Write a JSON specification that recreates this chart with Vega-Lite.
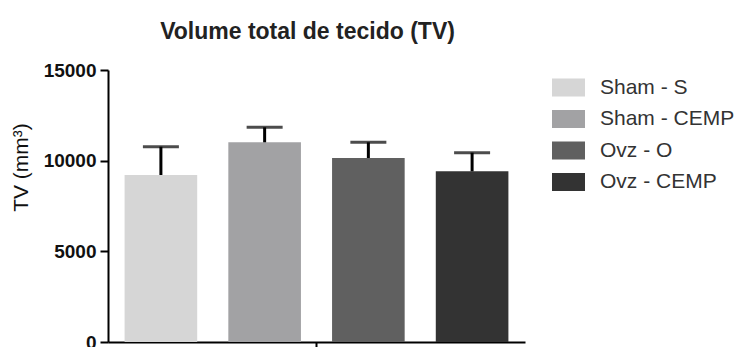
{
  "$schema": "https://vega.github.io/schema/vega-lite/v6.json",
  "width": 417,
  "height": 272,
  "autosize": {"type": "none"},
  "padding": {"left": 108, "top": 70, "right": 222, "bottom": 5},
  "background": "white",
  "config": {
    "view": {"stroke": null},
    "font": "Liberation Sans"
  },
  "title": {
    "text": "Volume total de tecido (TV)",
    "fontSize": 23,
    "fontWeight": "bold",
    "font": "Liberation Sans",
    "color": "#222222",
    "anchor": "middle",
    "frame": "group",
    "dx": -9,
    "dy": 7,
    "baseline": "alphabetic",
    "offset": 6
  },
  "data": {
    "values": [
      {"tecido": "TV", "grupo": "Sham - S", "media": 9210, "sup": 10770},
      {"tecido": "TV", "grupo": "Sham - CEMP", "media": 11013, "sup": 11840},
      {"tecido": "TV", "grupo": "Ovz - O", "media": 10147, "sup": 11013},
      {"tecido": "TV", "grupo": "Ovz - CEMP", "media": 9412, "sup": 10441}
    ]
  },
  "encoding": {
    "x": {
      "field": "tecido",
      "type": "nominal",
      "scale": {"paddingInner": 0, "paddingOuter": 0},
      "axis": {
        "title": null,
        "labels": false,
        "ticks": true,
        "tickSize": 6,
        "tickWidth": 2,
        "tickColor": "black",
        "domainColor": "black",
        "domainWidth": 2
      }
    },
    "xOffset": {
      "field": "grupo",
      "type": "nominal",
      "sort": ["Sham - S", "Sham - CEMP", "Ovz - O", "Ovz - CEMP"],
      "scale": {"paddingInner": 0.3, "paddingOuter": 0.16}
    }
  },
  "layer": [
    {
      "mark": {"type": "bar"},
      "encoding": {
        "y": {
          "field": "media",
          "type": "quantitative",
          "scale": {"domain": [0, 15000], "nice": false},
          "axis": {
            "title": "TV (mm³)",
            "titleFontSize": 21,
            "titleFontWeight": "normal",
            "titleFont": "Liberation Sans",
            "titleColor": "#111111",
            "titleAngle": -90,
            "titleX": -87,
            "titleY": 97,
            "titleAlign": "center",
            "titleBaseline": "middle",
            "values": [0, 5000, 10000, 15000],
            "format": "d",
            "grid": false,
            "labelFontSize": 19,
            "labelFontWeight": "bold",
            "labelFont": "Liberation Sans",
            "labelColor": "#111111",
            "labelPadding": 4,
            "tickSize": 8,
            "tickWidth": 2,
            "tickColor": "black",
            "domainColor": "black",
            "domainWidth": 2
          }
        },
        "color": {
          "field": "grupo",
          "type": "nominal",
          "sort": ["Sham - S", "Sham - CEMP", "Ovz - O", "Ovz - CEMP"],
          "scale": {
            "domain": ["Sham - S", "Sham - CEMP", "Ovz - O", "Ovz - CEMP"],
            "range": ["#d6d6d6", "#a2a2a4", "#606060", "#333333"]
          },
          "legend": {
            "title": null,
            "orient": "none",
            "legendX": 444,
            "legendY": 1,
            "padding": 0,
            "symbolType": "M-1,-0.55H1V0.55H-1Z",
            "symbolSize": 1089,
            "symbolStrokeWidth": 0,
            "symbolOpacity": 1,
            "labelFontSize": 21,
            "labelFont": "Liberation Sans",
            "labelColor": "#333333",
            "labelOffset": 15,
            "rowPadding": 4.5
          }
        }
      }
    },
    {
      "mark": {"type": "rule", "color": "black", "strokeWidth": 3},
      "encoding": {
        "y": {"field": "media", "type": "quantitative"},
        "y2": {"field": "sup"}
      }
    },
    {
      "mark": {"type": "tick", "color": "black", "size": 36, "thickness": 3, "orient": "horizontal"},
      "encoding": {
        "y": {"field": "sup", "type": "quantitative"}
      }
    }
  ]
}
